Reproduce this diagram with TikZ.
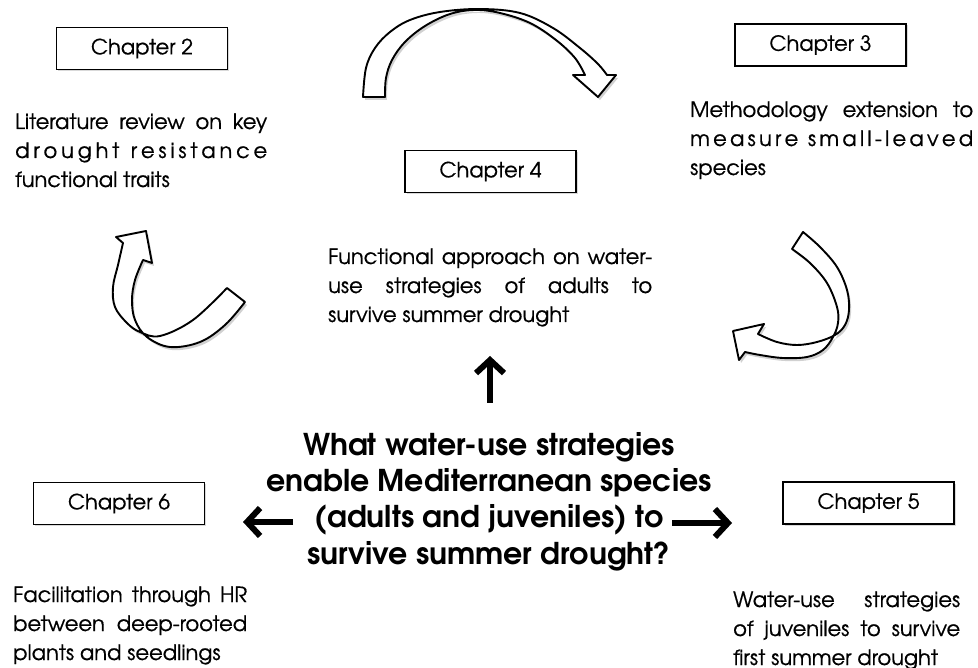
\documentclass[tikz,border=0pt]{standalone}
\usepackage{fontspec}
\setmainfont{TeX Gyre Adventor}
\newfontfamily\regf{TeX Gyre Adventor}[FakeBold=0.6]
\usetikzlibrary{arrows.meta,shadows}
\newcommand\jl[1]{\leavevmode\hbox to\linewidth{#1}}
\newcommand\wg{\hfil\hfil\hfil}
\begin{document}
\begin{tikzpicture}[x=1pt,y=-1pt,
  chap/.style={draw, line width=1.8pt, minimum width=171pt, minimum height=42pt, inner sep=0pt,
    font=\regf\fontsize{21}{25}\selectfont,
    drop shadow={shadow xshift=1.5pt, shadow yshift=-1.5pt, opacity=0.15, fill=black}, fill=white},
  body/.style={anchor=base west, inner sep=0pt, font=\regf\fontsize{21}{29}\selectfont},
  bigarrow/.style={line width=6pt, -{Straight Barb[length=13pt,width=28pt]}},
  curvy/.style={draw, line width=1.9pt, fill=white, line join=round,
    drop shadow={shadow xshift=2pt, shadow yshift=-3pt, opacity=0.18, fill=black}}
]
\useasboundingbox (0,0) rectangle (978,668);

% chapter boxes
\node[chap] (c2) at (142,48.5) {Chapter 2};
\node[chap] (c3) at (820.5,45) {Chapter 3};
\node[chap] (c4) at (490.5,171.5) {Chapter 4};
\node[chap] (c6) at (119,503.5) {Chapter 6};
\node[chap] (c5) at (868.5,503) {Chapter 5};

% body texts
\node[body] (t2) at (15,129) {\parbox[t]{252pt}{%
  \jl{Literature review on key}\\
  \jl{d\hfil r\hfil o\hfil u\hfil g\hfil h\hfil t\wg r\hfil e\hfil s\hfil i\hfil s\hfil t\hfil a\hfil n\hfil c\hfil e}\\
  functional traits}};
\node[body] (t3) at (690,117) {\parbox[t]{283pt}{%
  \jl{Methodology extension to}\\
  \jl{m\hfil e\hfil a\hfil s\hfil u\hfil r\hfil e\wg s\hfil m\hfil a\hfil l\hfil l\hfil -\hfil l\hfil e\hfil a\hfil v\hfil e\hfil d}\\
  species}};
\node[body] (t4) at (328,264) {\parbox[t]{324pt}{%
  \jl{Functional approach on water-}\\
  \jl{use strategies of adults to}\\
  survive summer drought}};
\node[body] (t6) at (13,602) {\parbox[t]{234pt}{%
  \jl{Facilitation through HR}\\
  \jl{between deep-rooted}\\
  plants and seedlings}};
\node[body] (t5) at (733,607) {\parbox[t]{227pt}{%
  \jl{Water-use strategies}\\
  \jl{of juveniles to survive}\\
  first summer drought}};

% central question
\node[anchor=base, inner sep=0pt] (q) at (489,455) {\parbox[t]{520pt}{\centering
  \fontsize{30}{36.5}\selectfont\bfseries
  What water-use strategies\\
  enable Mediterranean species\\
  (adults and juveniles) to\\
  survive summer drought?}};

% straight arrows
\coordinate (upS) at (490,403);
\coordinate (upE) at (490,356);
\coordinate (lS) at (293,522);
\coordinate (lE) at (243,522);
\coordinate (rS) at (672,523);
\coordinate (rE) at (732,523);
\draw[bigarrow] (upS) -- (upE);
\draw[bigarrow] (lS) -- (lE);
\draw[bigarrow] (rS) -- (rE);

% top curved arrow (Chapter 2 -> Chapter 3)
\path[curvy] (363,97) -- plot[smooth, tension=0.6] coordinates {(363,97) (366,68) (375,48) (390,32) (410,20) (440,12) (480,9) (520,13) (553,28) (580,48) (598,64) (607,75)}
  -- (616,75) -- (598,97) -- (573,75) -- (585,75)
  -- plot[smooth, tension=0.6] coordinates {(585,75) (575,58) (556,40) (530,23) (500,13) (475,10) (450,14) (425,26) (405,42) (392,60) (386,78) (385,97)}
  -- cycle;

% left curved arrow
\path[curvy] (116,237) -- (146,231) -- (152,263) -- (143,260)
  -- plot[smooth, tension=0.6] coordinates {(143,260) (135,280) (132,300) (135,320) (147,337) (170,347) (200,342) (225,325) (245,302)}
  -- (227,288)
  -- plot[smooth, tension=0.6] coordinates {(227,288) (193,320) (160,336) (140,332) (127,323) (115,307) (113,287) (118,265) (123,243)}
  -- cycle;

% right curved arrow
\path[curvy] (733,331) -- (764,324) -- (758,334)
  -- plot[smooth, tension=0.6] coordinates {(758,334) (777,342) (797,345) (817,342) (835,335) (845,325) (849,310) (847,290) (837,267) (820,247) (803,232)}
  -- (792,249)
  -- plot[smooth, tension=0.6] coordinates {(792,249) (810,263) (827,283) (837,307) (838,323) (833,337) (823,350) (807,357) (783,358) (760,355) (745,352)}
  -- (739,360) -- cycle;
\end{tikzpicture}
\end{document}
